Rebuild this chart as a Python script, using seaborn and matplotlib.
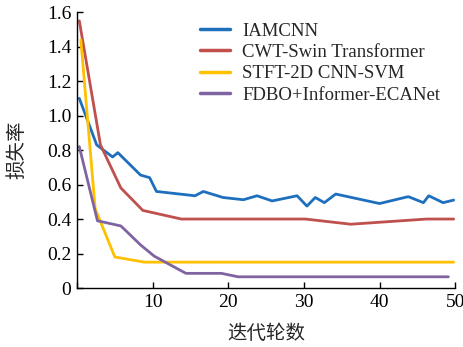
import matplotlib
matplotlib.use("Agg")
import matplotlib.pyplot as plt
import seaborn as sns
import pandas as pd

series_names = ["IAMCNN", "CWT-Swin Transformer", "STFT-2D CNN-SVM", "FDBO+Informer-ECANet"]

iam_x = [0.3, 2.6, 4.7, 5.4, 8.4, 9.6, 10.5, 15.6, 16.7, 19.3, 22.0, 23.8, 25.8, 29.1, 30.4, 31.5, 32.7, 34.2, 40.0, 43.8, 45.8, 46.5, 48.4, 49.8]
iam_y = [1.10, 0.83, 0.76, 0.785, 0.655, 0.64, 0.56, 0.535, 0.56, 0.525, 0.512, 0.535, 0.505, 0.535, 0.475, 0.525, 0.495, 0.545, 0.49, 0.53, 0.495, 0.535, 0.495, 0.51]

cwt_x = [0.3, 3.1, 5.8, 8.7, 13.8, 30.2, 36.2, 46.2, 49.8]
cwt_y = [1.55, 0.83, 0.58, 0.45, 0.40, 0.40, 0.37, 0.40, 0.40]

stft_x = [0.5, 2.4, 5.0, 8.9, 49.8]
stft_y = [1.44, 0.46, 0.18, 0.15, 0.15]

fdbo_x = [0.3, 2.7, 5.8, 8.4, 10.2, 14.4, 19.1, 21.3, 49.1]
fdbo_y = [0.82, 0.39, 0.36, 0.25, 0.185, 0.085, 0.085, 0.065, 0.065]

colors = ["#1F6FBF", "#C0504D", "#FFC000", "#8064A2"]

y_ticks = [0, 0.2, 0.4, 0.6, 0.8, 1.0, 1.2, 1.4, 1.6]
y_tick_labels = ["0", "0.2", "0.4", "0.6", "0.8", "1.0", "1.2", "1.4", "1.6"]
x_ticks = [0, 10, 20, 30, 40, 50]
x_tick_labels = ["", "10", "20", "30", "40", "50"]

frames = []
for name, xs, ys in zip(series_names, [iam_x, cwt_x, stft_x, fdbo_x], [iam_y, cwt_y, stft_y, fdbo_y]):
    frames.append(pd.DataFrame({"x": xs, "y": ys, "model": name}))
df = pd.concat(frames, ignore_index=True)

sns.set_style("ticks")
plt.rcParams["font.family"] = ["Liberation Serif", "Noto Sans CJK SC", "DejaVu Sans"]

fig = plt.figure(figsize=(4.64, 3.47), dpi=100)
ax = fig.add_axes([0.166, 0.170, 0.815, 0.795])

sns.lineplot(data=df, x="x", y="y", hue="model", hue_order=series_names,
             palette=colors, linewidth=2.0, sort=False, estimator=None, ax=ax)

ax.set_xlim(0, 50)
ax.set_ylim(0, 1.6)
ax.set_xticks(x_ticks)
ax.set_xticklabels(x_tick_labels, fontsize=14)
ax.set_yticks(y_ticks)
ax.set_yticklabels(y_tick_labels, fontsize=14)
ax.tick_params(direction="in", length=4, width=1, colors="black", pad=4)
for s in ["top", "right"]:
    ax.spines[s].set_visible(False)
for s in ["left", "bottom"]:
    ax.spines[s].set_linewidth(1.0)
    ax.spines[s].set_color("black")

ax.set_xlabel("迭代轮数", fontsize=14, family=["Noto Sans CJK SC", "DejaVu Sans"], labelpad=9)
ax.set_ylabel("损失率", fontsize=14, family=["Noto Sans CJK SC", "DejaVu Sans"], labelpad=14)

leg = ax.legend(loc="upper left", bbox_to_anchor=(0.305, 0.99), frameon=False,
                fontsize=13.5, handlelength=1.6, handletextpad=0.65, labelspacing=0.23,
                borderaxespad=0.0)
for line in leg.get_lines():
    line.set_linewidth(2.5)

fig.savefig("out.png", dpi=100)
